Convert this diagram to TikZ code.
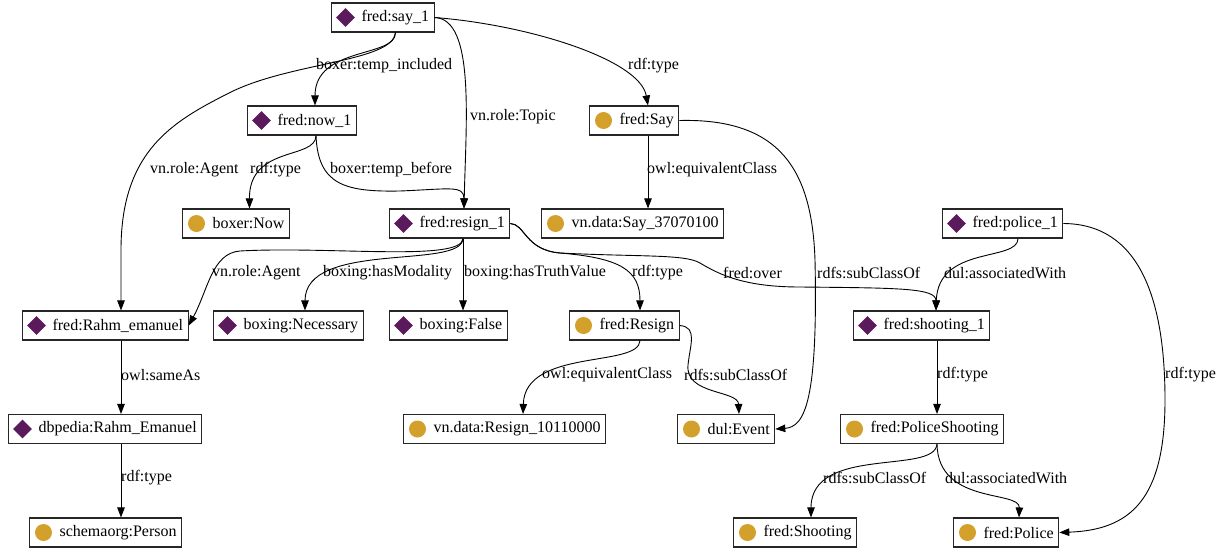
\documentclass[tikz,border=0pt]{standalone}
\usepackage{fontspec}
\setmainfont{Liberation Serif}
\usetikzlibrary{shapes.geometric,arrows.meta}
\definecolor{dmd}{HTML}{5A1A5C}
\definecolor{gld}{HTML}{D4A02C}
\newcommand\mkent[5]{%
  \node[box] (#1) at (#2,#3) {\hspace*{25pt}#5};
  \node[#4] (#1-i) at ([xshift=14.5pt]#1.west) {};}
\begin{document}
\begin{tikzpicture}[x=1pt,y=-1pt,
  box/.style={draw=black!85,line width=1.1pt,anchor=west,minimum height=29pt,inner xsep=5pt,inner ysep=0pt,font=\fontsize{16}{19}\selectfont},
  inst/.style={diamond,fill=dmd,minimum width=19pt,minimum height=19pt,inner sep=0pt},
  cls/.style={circle,fill=gld,minimum size=17pt,inner sep=0pt},
  link/.style={line width=0.9pt,-{Triangle[length=10pt,width=7.5pt]}},
  lbl/.style={anchor=west,inner sep=0pt,font=\fontsize{16}{19}\selectfont}]
\fill[white] (0,0) rectangle (1217,551);
\useasboundingbox (0,0) rectangle (1217,551);

% entities
\mkent{say}{331}{17.5}{inst}{fred:say\_1}
\mkent{now}{247}{120.5}{inst}{fred:now\_1}
\mkent{bnow}{182}{223.5}{cls}{boxer:Now}
\mkent{resign}{389}{223.5}{inst}{fred:resign\_1}
\mkent{fsay}{589}{120.5}{cls}{fred:Say}
\mkent{vnsay}{541}{223.5}{cls}{vn.data:Say\_37070100}
\mkent{police}{942}{223.5}{inst}{fred:police\_1}
\mkent{rahm}{22}{325.5}{inst}{fred:Rahm\_emanuel}
\mkent{nec}{213}{325.5}{inst}{boxing:Necessary}
\mkent{false}{389}{325.5}{inst}{boxing:False}
\mkent{fresign}{569}{325.5}{cls}{fred:Resign}
\mkent{shoot1}{853}{325.5}{inst}{fred:shooting\_1}
\mkent{dbp}{8}{429}{inst}{dbpedia:Rahm\_Emanuel}
\mkent{vnres}{403}{429}{cls}{vn.data:Resign\_10110000}
\mkent{event}{677}{429}{cls}{dul:Event}
\mkent{ps}{840}{429}{cls}{fred:PoliceShooting}
\mkent{person}{29}{532.5}{cls}{schemaorg:Person}
\mkent{fshoot}{733}{532.5}{cls}{fred:Shooting}
\mkent{fpolice}{953}{532.5}{cls}{fred:Police}

% connectors
\draw[link] ([xshift=64.5pt]say.south west) .. controls (396,58) and (315,46) .. ([xshift=68pt]now.north west);
\draw[link] ([xshift=64.5pt]say.south west) .. controls (393,62) and (290,62) .. (229,93) .. controls (174,121) and (121,150) .. (121,250) -- ([xshift=99pt]rahm.north west);
\draw[link] (say.east) .. controls (475,19) and (466,120) .. ([xshift=75pt]resign.north west);
\draw[link] (say.east) .. controls (530,25) and (640,60) .. ([xshift=59pt]fsay.north west);
\draw[link] ([xshift=69pt]now.south west) .. controls (316,160) and (249,145) .. ([xshift=67.5pt]bnow.north west);
\draw[link] ([xshift=69pt]now.south west) .. controls (318,185) and (345,192) .. (400,191) .. controls (450,189) and (464,185) .. ([xshift=75pt]resign.north west);
\draw[link] ([xshift=59pt]fsay.south west) -- ([xshift=107pt]vnsay.north west);
\draw[link] (fsay.east) .. controls (780,118) and (812,170) .. (815,260) .. controls (818,400) and (805,427) .. (event.east);
\draw[link] ([xshift=74pt]resign.south west) .. controls (462,262) and (330,246) .. (240,251) .. controls (212,253) and (208,290) .. (rahm.east);
\draw[link] ([xshift=74pt]resign.south west) .. controls (462,270) and (305,240) .. ([xshift=92pt]nec.north west);
\draw[link] ([xshift=74pt]resign.south west) -- ([xshift=74pt]false.north west);
\draw[link] (resign.east) .. controls (525,224) and (525,250) .. (560,253) .. controls (620,258) and (640,270) .. ([xshift=71pt]fresign.north west);
\draw[link] (resign.east) .. controls (525,224) and (525,250) .. (560,253) .. controls (640,257) and (685,254) .. (700,263) .. controls (720,275) and (745,287) .. (800,287) .. controls (900,288) and (936,288) .. ([xshift=83pt]shoot1.north west);
\draw[link] ([xshift=76pt]police.south west) .. controls (1018,262) and (938,245) .. ([xshift=83pt]shoot1.north west);
\draw[link] (police.east) .. controls (1140,224) and (1165,300) .. (1165,400) .. controls (1165,500) and (1130,530) .. (fpolice.east);
\draw[link] ([xshift=99pt]rahm.south west) -- ([xshift=113pt]dbp.north west);
\draw[link] ([xshift=113pt]dbp.south west) -- ([xshift=92pt]person.north west);
\draw[link] ([xshift=71pt]fresign.south west) .. controls (639,368) and (525,348) .. ([xshift=120pt]vnres.north west);
\draw[link] (fresign.east) .. controls (698,327) and (690,345) .. (688,365) .. controls (685,395) and (738,390) .. ([xshift=62pt]event.north west);
\draw[link] ([xshift=84pt]shoot1.south west) -- ([xshift=97pt]ps.north west);
\draw[link] ([xshift=97pt]ps.south west) .. controls (935,475) and (811,445) .. ([xshift=78pt]fshoot.north west);
\draw[link] ([xshift=97pt]ps.south west) .. controls (938,505) and (1020,490) .. ([xshift=66pt]fpolice.north west);

% labels
\node[lbl] (l1) at (316,66) {boxer:temp\_included};
\node[lbl] (l2) at (150,170) {vn.role:Agent};
\node[lbl] (l3) at (470,117) {vn.role:Topic};
\node[lbl] (l4) at (628,66) {rdf:type};
\node[lbl] (l5) at (250,170) {rdf:type};
\node[lbl] (l6) at (330,170) {boxer:temp\_before};
\node[lbl] (l7) at (647,170) {owl:equivalentClass};
\node[lbl] (l8) at (817,273) {rdfs:subClassOf};
\node[lbl] (l9) at (212,273) {vn.role:Agent};
\node[lbl] (l10) at (323,273) {boxing:hasModality};
\node[lbl] (l11) at (464,273) {boxing:hasTruthValue};
\node[lbl] (l12) at (632,273) {rdf:type};
\node[lbl] (l13) at (723,273) {fred:over};
\node[lbl] (l14) at (944,273) {dul:associatedWith};
\node[lbl] (l15) at (1165,375) {rdf:type};
\node[lbl] (l16) at (121,375) {owl:sameAs};
\node[lbl] (l17) at (121,478) {rdf:type};
\node[lbl] (l18) at (542,375) {owl:equivalentClass};
\node[lbl] (l19) at (684,375) {rdfs:subClassOf};
\node[lbl] (l20) at (937,375) {rdf:type};
\node[lbl] (l21) at (823,478) {rdfs:subClassOf};
\node[lbl] (l22) at (945,478) {dul:associatedWith};
\end{tikzpicture}
\end{document}
